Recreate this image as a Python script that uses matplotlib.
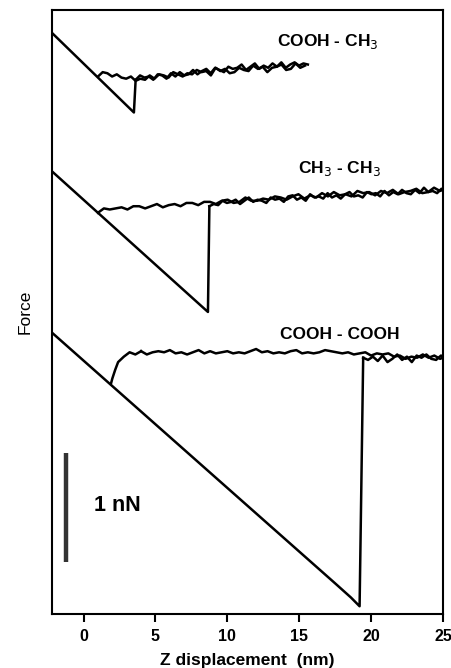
import numpy as np
import matplotlib
matplotlib.use("Agg")
import matplotlib.pyplot as plt

plt.rcParams['font.family'] = ['Liberation Sans', 'DejaVu Sans']

# Force in nN (arbitrary offset per curve), Z displacement in nm
# --- COOH - CH3 (top) ---
top_slope_x = [-2.2, 3.5, 3.62]
top_slope_y = [5.33, 4.60, 4.90]
top_ret_x = (3.62, 15.6)
top_ret_y = [4.90, 4.94, 4.92, 4.93, 4.90, 4.95, 4.94, 4.91, 4.96, 4.93, 4.97, 4.94, 4.95, 4.99,
             4.95, 4.98, 5.00, 4.96, 5.01, 4.99, 4.97, 5.02, 5.00, 5.01, 5.04, 4.99, 5.02, 5.05,
             5.00, 5.03, 5.01, 5.05, 5.02, 5.06, 5.01, 5.04, 5.06, 5.03, 5.05, 5.04]
top_app_x = (15.4, 1.0)
top_app_y = [5.03, 5.01, 5.05, 5.00, 4.99, 5.04, 5.02, 5.01, 4.97, 5.02, 5.00, 5.03, 4.98, 4.99,
             5.01, 4.97, 4.96, 5.00, 4.98, 5.01, 4.94, 4.98, 4.97, 4.99, 4.95, 4.96, 4.93, 4.95,
             4.97, 4.92, 4.94, 4.95, 4.91, 4.94, 4.90, 4.91, 4.89, 4.93, 4.91, 4.92, 4.95, 4.93,
             4.96, 4.97, 4.93]

# --- CH3 - CH3 (middle) ---
mid_slope_x = [-2.2, 8.65, 8.75]
mid_slope_y = [4.06, 2.77, 3.74]
mid_ret_x = (8.75, 25.2)
mid_ret_y = [3.74, 3.76, 3.75, 3.79, 3.77, 3.78, 3.80, 3.76, 3.79, 3.82, 3.78, 3.80, 3.79, 3.77,
             3.82, 3.80, 3.81, 3.78, 3.83, 3.84, 3.80, 3.82, 3.79, 3.85, 3.82, 3.83, 3.81, 3.86,
             3.82, 3.84, 3.81, 3.85, 3.87, 3.83, 3.84, 3.82, 3.87, 3.85, 3.86, 3.83, 3.88, 3.84,
             3.87, 3.85, 3.89, 3.86, 3.85, 3.89, 3.86, 3.91, 3.87, 3.88, 3.86, 3.90, 3.89]
mid_app_x = (25.2, 1.0)
mid_app_y = [3.90, 3.88, 3.91, 3.87, 3.86, 3.90, 3.88, 3.87, 3.85, 3.89, 3.86, 3.88, 3.84, 3.87,
             3.86, 3.88, 3.83, 3.85, 3.84, 3.87, 3.83, 3.86, 3.82, 3.84, 3.81, 3.85, 3.83, 3.80,
             3.82, 3.83, 3.80, 3.81, 3.79, 3.79, 3.82, 3.78, 3.77, 3.80, 3.79, 3.76, 3.78, 3.78,
             3.75, 3.77, 3.77, 3.74, 3.76, 3.75, 3.73, 3.76, 3.74, 3.72, 3.74, 3.74, 3.71, 3.73,
             3.72, 3.71, 3.72, 3.68]

# --- COOH - COOH (bottom) ---
bot_slope_x = [-2.2, 17.5, 18.6, 19.2, 19.45]
bot_slope_y = [2.58, 0.28, 0.15, 0.07, 2.35]
bot_ret_x = (19.45, 25.2)
bot_ret_y = [2.35, 2.33, 2.36, 2.32, 2.37, 2.31, 2.34, 2.38, 2.33, 2.36, 2.31, 2.37, 2.35,
             2.38, 2.34, 2.33, 2.37, 2.35]
bot_app_x = (25.2, 4.0)
bot_app_y = [2.36, 2.34, 2.37, 2.35, 2.38, 2.35, 2.36, 2.34, 2.37, 2.36, 2.39, 2.38, 2.39, 2.37,
             2.40, 2.39, 2.38, 2.40, 2.39, 2.40, 2.41, 2.42, 2.40, 2.39, 2.40, 2.39, 2.42, 2.41,
             2.39, 2.40, 2.39, 2.41, 2.40, 2.43, 2.41, 2.39, 2.40, 2.39, 2.41, 2.40, 2.39, 2.41,
             2.39, 2.42, 2.40, 2.38, 2.40, 2.39, 2.42, 2.40, 2.41, 2.40, 2.38, 2.41]
bot_contact_x = [4.0, 3.6, 3.2, 2.8, 2.4, 2.2, 2.0, 1.9]
bot_contact_y = [2.41, 2.38, 2.40, 2.36, 2.31, 2.24, 2.16, 2.11]

labels = ["COOH - CH$_3$", "CH$_3$ - CH$_3$", "COOH - COOH"]
label_x = [17.0, 17.8, 17.8]
label_y = [5.25, 4.09, 2.56]

fig = plt.figure(figsize=(4.52, 6.68), dpi=100)
ax = fig.add_axes([0.115, 0.081, 0.865, 0.904])

lw = 1.8
k = 'black'

def noisy(ax, span, ys):
    xs = np.linspace(span[0], span[1], len(ys))
    ax.plot(xs, ys, color=k, lw=lw, solid_joinstyle='round')

ax.plot(top_slope_x, top_slope_y, color=k, lw=lw)
noisy(ax, top_ret_x, top_ret_y)
noisy(ax, top_app_x, top_app_y)

ax.plot(mid_slope_x, mid_slope_y, color=k, lw=lw)
noisy(ax, mid_ret_x, mid_ret_y)
noisy(ax, mid_app_x, mid_app_y)

ax.plot(bot_slope_x, bot_slope_y, color=k, lw=lw)
noisy(ax, bot_ret_x, bot_ret_y)
noisy(ax, bot_app_x, bot_app_y)
ax.plot(bot_contact_x, bot_contact_y, color=k, lw=lw)

for t, x, y in zip(labels, label_x, label_y):
    ax.text(x, y, t, ha='center', va='center', fontsize=12.5, fontweight='bold')

# 1 nN scale bar
ax.plot([-1.2, -1.2], [0.48, 1.48], color='#333333', lw=3.2, solid_capstyle='butt')
ax.text(0.7, 0.99, "1 nN", ha='left', va='center', fontsize=15.5, fontweight='bold')

ax.set_xlim(-2.2, 25)
ax.set_ylim(0, 5.54)
ax.set_xticks([0, 5, 10, 15, 20, 25])
ax.set_yticks([])
ax.tick_params(axis='x', direction='out', length=6, width=1.5, labelsize=11.5, pad=5)
for lab in ax.get_xticklabels():
    lab.set_fontweight('bold')
for s in ax.spines.values():
    s.set_linewidth(1.5)

ax.set_xlabel("Z displacement  (nm)", fontsize=12.5, fontweight='bold', labelpad=6)
ax.set_ylabel("Force", fontsize=12.5, labelpad=14)

fig.savefig("out.png", dpi=100)
